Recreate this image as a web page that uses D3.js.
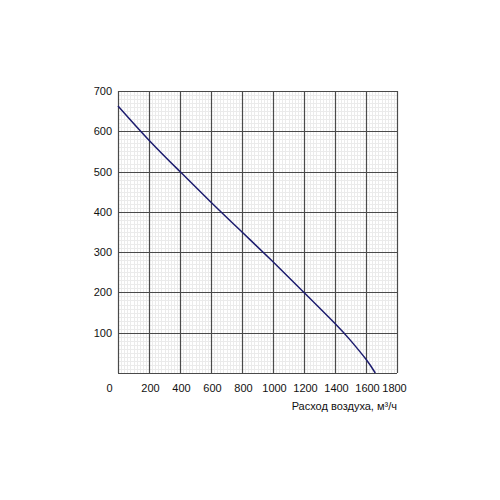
<!DOCTYPE html>
<html>
<head>
<meta charset="utf-8">
<script src="https://cdn.jsdelivr.net/npm/d3@7"></script>
<style>
  body { margin: 0; background: #fff; }
  text { font-family: Arial, "Liberation Sans", Helvetica, sans-serif; }
</style>
</head>
<body>
<svg id="chart" width="500" height="500"></svg>
<script>
// air flow, m3/h  vs  pressure, Pa
const flow = [0, 200, 400, 600, 800, 1000, 1200, 1400, 1500, 1600, 1660];
const pressure = [663, 578, 500, 424, 350, 276, 200, 123, 81, 34, 0];

const xTicks = [0, 200, 400, 600, 800, 1000, 1200, 1400, 1600, 1800];
const yTicks = [100, 200, 300, 400, 500, 600, 700];
const xTitle = "Расход воздуха, м³/ч";

const margin = { top: 91, right: 103, bottom: 127, left: 118 };
const width = 500 - margin.left - margin.right;
const height = 500 - margin.top - margin.bottom;

const svg = d3.select("#chart");
const g = svg.append("g").attr("transform", `translate(${margin.left},${margin.top})`);

const x = d3.scaleLinear().domain([0, 1800]).range([0, width]);
const y = d3.scaleLinear().domain([0, 700]).range([height, 0]);

// minor grid
const minorX = d3.range(0, 1800 + 1, 20);
const minorY = d3.range(0, 700 + 1, 10);
g.append("g")
  .selectAll("line")
  .data(minorX)
  .join("line")
  .attr("x1", (d) => Math.round(x(d)) + 0.5)
  .attr("x2", (d) => Math.round(x(d)) + 0.5)
  .attr("y1", 0)
  .attr("y2", height)
  .attr("stroke", "#ebebeb")
  .attr("stroke-width", 1);
g.append("g")
  .selectAll("line")
  .data(minorY)
  .join("line")
  .attr("y1", (d) => Math.round(y(d)) + 0.5)
  .attr("y2", (d) => Math.round(y(d)) + 0.5)
  .attr("x1", 0)
  .attr("x2", width)
  .attr("stroke", "#ebebeb")
  .attr("stroke-width", 1);

// major grid
g.append("g")
  .selectAll("line")
  .data(xTicks)
  .join("line")
  .attr("x1", (d) => Math.round(x(d)) + 0.5)
  .attr("x2", (d) => Math.round(x(d)) + 0.5)
  .attr("y1", 0)
  .attr("y2", height)
  .attr("stroke", "#4a4a4a")
  .attr("stroke-width", 1.2);
g.append("g")
  .selectAll("line")
  .data([0].concat(yTicks))
  .join("line")
  .attr("y1", (d) => Math.round(y(d)) + 0.5)
  .attr("y2", (d) => Math.round(y(d)) + 0.5)
  .attr("x1", 0)
  .attr("x2", width)
  .attr("stroke", "#4a4a4a")
  .attr("stroke-width", 1.2);

// curve
const line = d3
  .line()
  .x((d, i) => x(flow[i]))
  .y((d) => y(d))
  .curve(d3.curveNatural);

g.append("path")
  .datum(pressure)
  .attr("fill", "none")
  .attr("stroke", "#1c1c6e")
  .attr("stroke-width", 1.5)
  .attr("d", line);

// axes labels
const yAxis = d3.axisLeft(y).tickValues(yTicks).tickSize(0).tickPadding(6).tickFormat(d3.format("d"));
g.append("g")
  .call(yAxis)
  .call((s) => s.select(".domain").remove())
  .selectAll("text")
  .attr("font-size", 11)
  .attr("fill", "#111");

const xAxis = d3.axisBottom(x).tickValues(xTicks).tickSize(0).tickPadding(11).tickFormat(d3.format("d"));
g.append("g")
  .attr("transform", `translate(0,${height})`)
  .call(xAxis)
  .call((s) => s.select(".domain").remove())
  .selectAll("text")
  .attr("font-size", 11)
  .attr("fill", "#111")
  .attr("dx", (d) => (d === 0 ? -9 : d === 1800 ? -3 : 1));

g.append("text")
  .attr("x", width)
  .attr("y", height + 37)
  .attr("text-anchor", "end")
  .attr("font-size", 11)
  .attr("fill", "#111")
  .text(xTitle);
</script>
</body>
</html>
